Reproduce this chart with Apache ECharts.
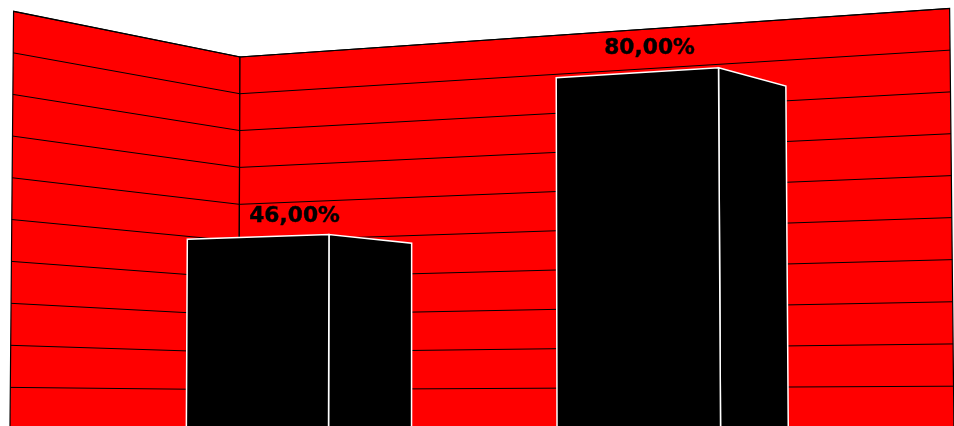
<!DOCTYPE html>
<html><head><meta charset="utf-8">
<style>html,body{margin:0;padding:0;background:#fff}#c{width:954px;height:426px}</style>
<script src="https://cdn.jsdelivr.net/npm/echarts@6/dist/echarts.min.js"></script>
</head><body><div id="c"></div>
<script>
// ---- data ----
var categories = ['1', '2'];
var values = [46, 80];
var labels = ['46,00%', '80,00%'];
var ticks = [0, 10, 20, 30, 40, 50, 60, 70, 80, 90, 100];

// ---- 3D view: u along back wall, d along side wall (0..1), t = height (0..1) ----
var cam = {x0:238.5, xu:601, xd:-229.7, xt:3.3, y0:427, yu:-49.9, yd:-47.3, yt:-369.6, wu:-0.12, wd:-0.116, wt:0.0075};
function project(u, d, t) {
  var w = 1 + cam.wu*u + cam.wd*d + cam.wt*t;
  return [(cam.x0 + cam.xu*u + cam.xd*d + cam.xt*t)/w, (cam.y0 + cam.yu*u + cam.yd*d + cam.yt*t)/w];
}
var barFront = 0.70, barBack = 0.30, barRatio = 0.4;
var labelNudge = [[-6.3, -25], [-23, -34]];

function heightOf(api, params, v) {
  var cs = params.coordSys;
  return (cs.y + cs.height - api.coord([0, v])[1]) / cs.height;
}
function wallItem(params, api) {
  var top = 1, base = heightOf(api, params, ticks[0]);
  var border = {stroke:'#000', lineWidth:1.2, fill:'#ff0000'};
  return {type:'group', children:[
    {type:'polygon', shape:{points:[project(0,1,base),project(0,1,top),project(0,0,top),project(0,0,base)]}, style:border},
    {type:'polygon', shape:{points:[project(0,0,base),project(0,0,top),project(1,0,top),project(1,0,base)]}, style:border}
  ]};
}
function gridItem(params, api) {
  var t = heightOf(api, params, api.value(0));
  var style = {stroke:'#000', lineWidth:1, fill:null};
  return {type:'polyline', shape:{points:[project(0,1,t),project(0,0,t),project(1,0,t)]}, style:style};
}
function barItem(params, api) {
  var cs = params.coordSys, i = api.value(0);
  var c = (api.coord([i, 0])[0] - cs.x) / cs.width;
  var half = api.size([1, 0])[0] / cs.width * barRatio / 2;
  var u0 = c - half, u1 = c + half;
  var t = heightOf(api, params, api.value(1));
  var b = heightOf(api, params, ticks[0]);
  var s = {fill:'#000', stroke:'#fff', lineWidth:1.5};
  var tp = project(c, (barFront+barBack)/2, t);
  var n = labelNudge[i];
  return {type:'group', children:[
    {type:'polygon', shape:{points:[project(u1,barFront,b),project(u1,barFront,t),project(u1,barBack,t),project(u1,barBack,b)]}, style:s},
    {type:'polygon', shape:{points:[project(u0,barFront,b),project(u0,barFront,t),project(u1,barFront,t),project(u1,barFront,b)]}, style:s},
    {type:'text', style:{text:labels[i], x:tp[0]+n[0], y:tp[1]+n[1], align:'center', verticalAlign:'middle',
      fill:'#000', stroke:'#000', lineWidth:0.4, font:'bold 21.8px "DejaVu Sans"'}}
  ]};
}
var chart = echarts.init(document.getElementById('c'), null, {renderer:'canvas'});
chart.setOption({
  animation:false,
  backgroundColor:'#fff',
  grid:{left:0, right:0, top:57, height:366},
  xAxis:{type:'category', data:categories, show:false},
  yAxis:{type:'value', min:0, max:100, interval:10, show:false},
  series:[
    {type:'custom', z:1, data:[[0,0]], clip:false, renderItem:wallItem, silent:true},
    {type:'custom', z:2, data:ticks.map(function(v){return [v];}), encode:{x:-1,y:-1}, clip:false, renderItem:gridItem, silent:true},
    {type:'custom', z:3, data:values.map(function(v,i){return [i,v];}), encode:{x:0,y:1}, clip:false, renderItem:barItem, silent:true}
  ]
});
</script></body></html>
